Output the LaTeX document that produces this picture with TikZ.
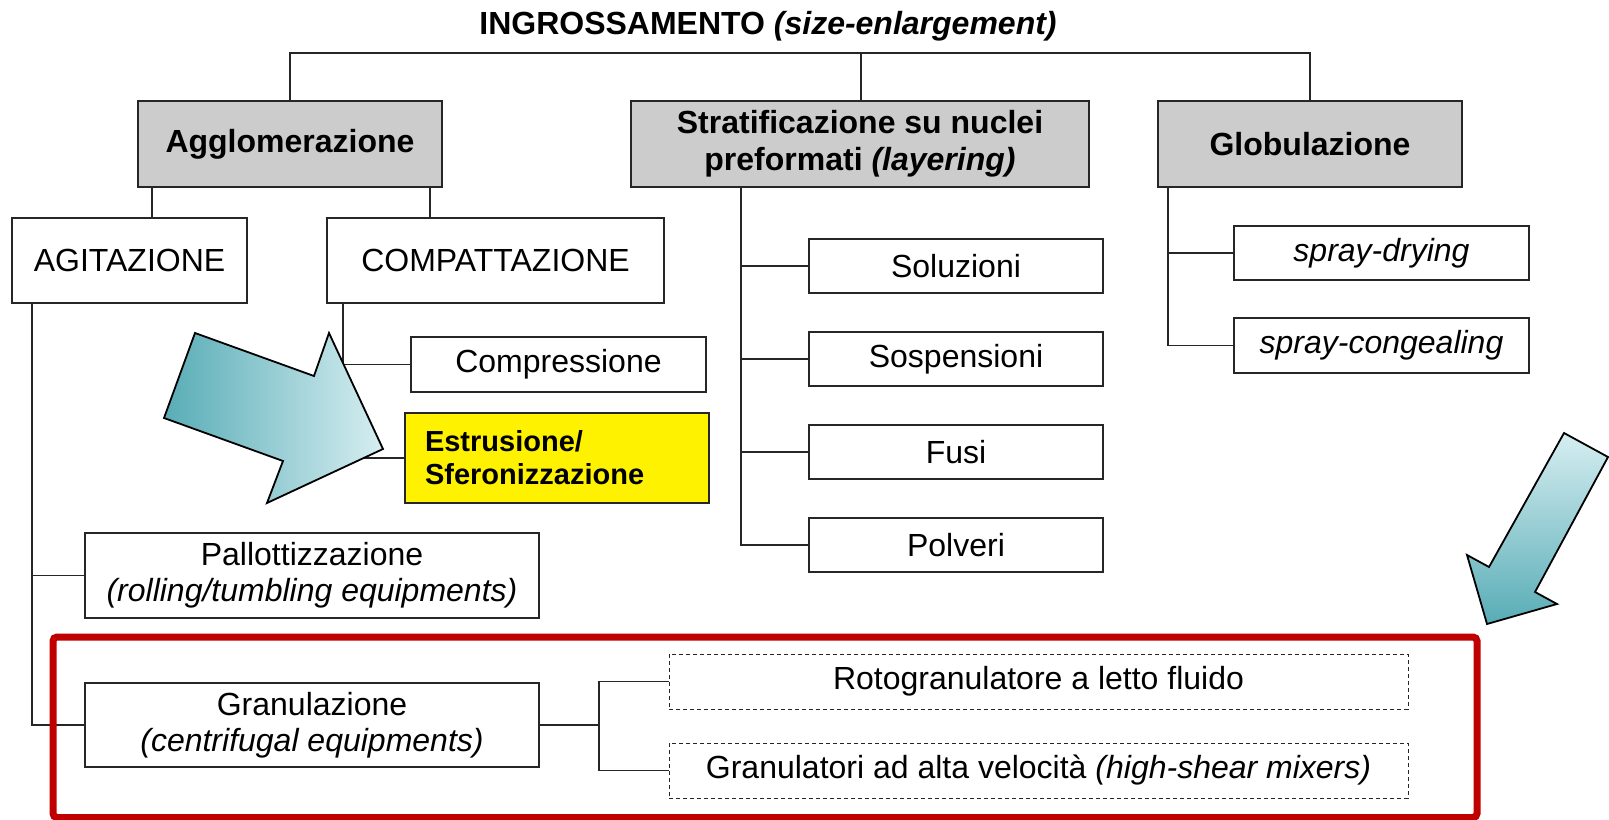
\documentclass[tikz,border=0pt]{standalone}
\usepackage{fontspec}
\setmainfont{Liberation Sans}
\definecolor{boxgray}{RGB}{204,204,204}
\definecolor{framered}{RGB}{192,0,0}
\definecolor{tealdark}{RGB}{88,172,182}
\definecolor{teallight}{RGB}{214,238,241}
\begin{document}
\begin{tikzpicture}[x=0.5pt,y=-0.5pt,
		every node/.style={inner sep=0pt,font=\fontsize{16}{18}\selectfont},
		box/.style={draw=black!85,line width=0.8pt,fill=white,align=center},
		head/.style={box,fill=boxgray,font=\fontsize{16}{18.5}\selectfont\bfseries},
		opt/.style={draw=black!85,line width=0.5pt,dash pattern=on 2pt off 1.5pt,align=center},
		link/.style={black!85,line width=0.8pt},
		bigarrow/.style={draw=black,line width=0.9pt,line join=miter}]
	
	\useasboundingbox (0,0) rectangle (1609,819);
	
	\node[name=T,font=\fontsize{16}{18}\selectfont\bfseries] at (768,26) {INGROSSAMENTO \textit{(size-enlargement)}};
	%
	\node[name=Agg,head,minimum width=152pt,minimum height=43pt] at (290,144) {Agglomerazione};
	\node[name=Str,head,minimum width=229pt,minimum height=43pt] at (860,144) {Stratificazione su nuclei\\preformati \textit{(layering)}};
	\node[name=Glo,head,minimum width=152pt,minimum height=43pt] at (1310,144) {Globulazione};
	%
	\node[name=Agi,box,minimum width=117.5pt,minimum height=42.5pt] at (129.5,260.5) {AGITAZIONE};
	\node[name=Com,box,minimum width=168.5pt,minimum height=42.5pt] at (495.5,260.5) {COMPATTAZIONE};
	\node[name=Cmp,box,minimum width=147.5pt,minimum height=27.5pt] at (558.5,364.5) {Compressione};
	\node[name=Est,box,fill=yellow,text width=132pt,inner xsep=10pt,minimum height=45pt,align=left,
		font=\fontsize{14.5}{16.5}\selectfont\bfseries] at (557,458) {Estrusione/\\Sferonizzazione};
	\node[name=Pal,box,minimum width=227pt,minimum height=42.5pt] at (312,575.5) {Pallottizzazione\\\textit{(rolling/tumbling equipments)}};
	\node[name=Gra,box,minimum width=227pt,minimum height=42pt] at (312,725) {Granulazione\\\textit{(centrifugal equipments)}};
	\node[name=Rot,opt,minimum width=369.5pt,minimum height=27.5pt] at (1038.5,681.5) {Rotogranulatore a letto fluido};
	\node[name=Ghs,opt,minimum width=369.5pt,minimum height=27.5pt] at (1038.5,770.5) {Granulatori ad alta velocità \textit{(high-shear mixers)}};
	%
	\foreach \n/\y/\t in {Sol/266/Soluzioni,Sos/359/Sospensioni,Fus/452/Fusi,Pol/545/Polveri}
		\node[name=\n,box,minimum width=147pt,minimum height=27pt] at (956,\y) {\t};
	\node[name=Spd,box,minimum width=147.5pt,minimum height=27pt] at (1381.5,253) {\textit{spray-drying}};
	\node[name=Spc,box,minimum width=147.5pt,minimum height=27.5pt] at (1381.5,345.5) {\textit{spray-congealing}};
	
	% tree
	\coordinate (Bus) at (768,53);
	\draw[link] (Agg.north) |- (Bus) -| (Glo.north);
	\draw[link] ([xshift=0.5pt]Str.north) -- ([xshift=0.5pt]Str.north |- Bus);
	\draw[link] ([xshift=7.5pt]Agg.south west) -- ([xshift=7.5pt]Agg.south west |- Agi.north);
	\draw[link] ([xshift=-6.5pt]Agg.south east) -- ([xshift=-6.5pt]Agg.south east |- Com.north);
	%
	\coordinate (Ta) at ([xshift=10.5pt]Agi.south west);
	\draw[link] (Ta) |- (Gra.west);
	\draw[link] (Ta |- Pal.west) -- (Pal.west);
	\coordinate (Tc) at ([xshift=8.5pt]Com.south west);
	\draw[link] (Tc) |- (Est.west);
	\draw[link] (Tc |- Cmp.west) -- (Cmp.west);
	\coordinate (Ts) at ([xshift=55.5pt]Str.south west);
	\draw[link] (Ts) |- (Pol.west);
	\foreach \n in {Sol,Sos,Fus}
		\draw[link] (Ts |- \n.west) -- (\n.west);
	\coordinate (Tg) at ([xshift=5.5pt]Glo.south west);
	\draw[link] (Tg) |- (Spc.west);
	\draw[link] (Tg |- Spd.west) -- (Spd.west);
	\coordinate (Tr) at ([xshift=29.5pt]Gra.east);
	\draw[link] (Gra.east) -- (Tr);
	\draw[link] (Rot.west) -| (Tr) |- (Ghs.west);
	
	% arrows
	\path[bigarrow,left color=tealdark,right color=teallight]
		(195,333) -- (314,376) -- (329,333) -- (383,449) -- (267,503) -- (283,461) -- (164,418) -- cycle;
	\path[bigarrow,top color=teallight,bottom color=tealdark]
		(1564,433) -- (1608,457) -- (1535,592) -- (1557,604) -- (1487,624) -- (1467,555) -- (1489,567) -- cycle;
	
	% frame
	\draw[framered,line width=3.5pt,rounded corners=2pt] (53,637) rectangle (1477,817.5);
	
\end{tikzpicture}
\end{document}
